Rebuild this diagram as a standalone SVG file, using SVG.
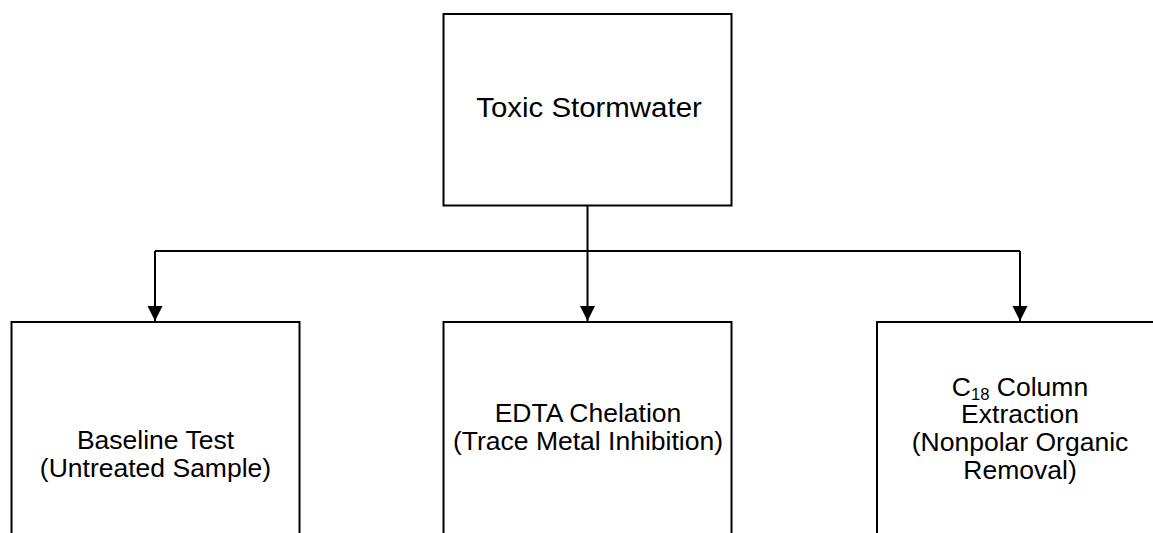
<svg xmlns="http://www.w3.org/2000/svg" width="1153" height="533" viewBox="0 0 1153 533">
  <style>
    .box { fill: #ffffff; stroke: #000000; stroke-width: 2; }
    .wire { fill: none; stroke: #000000; stroke-width: 2; }
    .lbl { font-family: "Liberation Sans", Arial, sans-serif; fill: #000000; text-anchor: middle; }
    .big { font-size: 27.5px; }
    .med { font-size: 25.5px; }
    .sub { font-size: 16px; }
  </style>
  <defs>
    <marker id="arrow" markerUnits="userSpaceOnUse" markerWidth="16" markerHeight="16" viewBox="0 0 16 16" refX="15" refY="8" orient="auto">
      <path d="M0,0.5 L15,8 L0,15.5 Z" fill="#000000"/>
    </marker>
  </defs>

  <rect width="1153" height="533" fill="#ffffff"/>

  <!-- connectors -->
  <g id="connectors">
    <path class="wire" d="M587.5,203 L587.5,251"/>
    <path class="wire" d="M155,251 L1020,251"/>
    <path class="wire" d="M155,251 L155,321" marker-end="url(#arrow)"/>
    <path class="wire" d="M587.5,251 L587.5,321" marker-end="url(#arrow)"/>
    <path class="wire" d="M1020,251 L1020,321" marker-end="url(#arrow)"/>
  </g>

  <!-- source -->
  <g id="toxic-stormwater">
    <rect class="box" x="443.5" y="14" width="288" height="191.5"/>
    <g transform="translate(589,0) scale(1.07,1)">
      <text class="lbl big" x="0" y="117.5">Toxic Stormwater</text>
    </g>
  </g>

  <!-- treatments -->
  <g id="baseline-test">
    <rect class="box" x="11.5" y="322" width="288" height="240"/>
    <g transform="translate(155.5,0) scale(1.04,1)">
      <text class="lbl med" x="0" y="449">Baseline Test</text>
      <text class="lbl med" x="0" y="477">(Untreated Sample)</text>
    </g>
  </g>

  <g id="edta-chelation">
    <rect class="box" x="443.5" y="322" width="288" height="240"/>
    <g transform="translate(588,0) scale(1.04,1)">
      <text class="lbl med" x="0" y="422.5">EDTA Chelation</text>
      <text class="lbl med" x="0" y="450.5">(Trace Metal Inhibition)</text>
    </g>
  </g>

  <g id="c18-extraction">
    <rect class="box" x="877" y="322" width="288" height="240"/>
    <g transform="translate(1020,0) scale(1.04,1)">
      <text class="lbl med" x="0" y="396">C<tspan class="sub" dy="4">18</tspan><tspan dy="-4"> Column</tspan></text>
      <text class="lbl med" x="0" y="423.5">Extraction</text>
      <text class="lbl med" x="0" y="451.5">(Nonpolar Organic</text>
      <text class="lbl med" x="0" y="479">Removal)</text>
    </g>
  </g>
</svg>
